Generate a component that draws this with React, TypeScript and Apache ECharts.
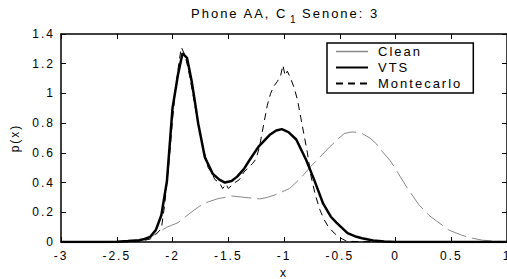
import React, { useEffect, useRef } from "react";
import * as echarts from "echarts";

const X_TICKS_MIN = -3;
const X_TICKS_MAX = 1;
const X_INTERVAL = 0.5;
const Y_MAX = 1.4;
const Y_INTERVAL = 0.2;

const SERIES_NAMES = ["Clean", "VTS", "Montecarlo"];

const CLEAN_X = [-3, -2.5, -2.3, -2.2, -2.14, -2.05, -1.95, -1.85, -1.76, -1.68, -1.6, -1.47, -1.35, -1.22, -1.15, -1.07, -0.95, -0.85, -0.77, -0.68, -0.59, -0.52, -0.46, -0.4, -0.37, -0.3, -0.23, -0.17, -0.12, -0.05, 0.01, 0.1, 0.21, 0.3, 0.37, 0.48, 0.58, 0.66, 0.78, 0.9, 1];
const CLEAN_Y = [0, 0.002, 0.01, 0.03, 0.06, 0.1, 0.13, 0.19, 0.24, 0.27, 0.29, 0.31, 0.3, 0.29, 0.3, 0.32, 0.36, 0.43, 0.5, 0.57, 0.64, 0.69, 0.73, 0.74, 0.74, 0.73, 0.7, 0.66, 0.61, 0.55, 0.48, 0.37, 0.25, 0.18, 0.14, 0.08, 0.05, 0.03, 0.012, 0.005, 0.002];

const VTS_X = [-3, -2.6, -2.5, -2.4, -2.3, -2.25, -2.2, -2.15, -2.1, -2.05, -2.0, -1.95, -1.91, -1.87, -1.83, -1.8, -1.77, -1.71, -1.64, -1.58, -1.53, -1.47, -1.42, -1.36, -1.31, -1.23, -1.13, -1.07, -1.02, -0.96, -0.89, -0.8, -0.73, -0.65, -0.58, -0.53, -0.43, -0.35, -0.3, -0.2, -0.1, 0, 0.5, 1];
const VTS_Y = [0, 0, 0.002, 0.006, 0.012, 0.02, 0.035, 0.08, 0.18, 0.41, 0.9, 1.13, 1.27, 1.24, 1.09, 0.95, 0.8, 0.57, 0.46, 0.42, 0.4, 0.41, 0.44, 0.49, 0.55, 0.64, 0.72, 0.75, 0.76, 0.74, 0.69, 0.55, 0.42, 0.26, 0.17, 0.13, 0.06, 0.035, 0.025, 0.01, 0.003, 0, 0, 0];

const MC_X = [-3, -2.4, -2.3, -2.2, -2.15, -2.1, -2.07, -2.03, -2.0, -1.97, -1.94, -1.92, -1.89, -1.86, -1.83, -1.8, -1.75, -1.72, -1.68, -1.65, -1.62, -1.58, -1.55, -1.52, -1.5, -1.47, -1.44, -1.4, -1.36, -1.32, -1.28, -1.25, -1.22, -1.18, -1.15, -1.12, -1.09, -1.06, -1.03, -1.01, -0.99, -0.97, -0.94, -0.91, -0.88, -0.85, -0.82, -0.79, -0.76, -0.72, -0.68, -0.64, -0.6, -0.55, -0.5, -0.45, -0.4, 0, 1];
const MC_Y = [0, 0, 0.003, 0.02, 0.05, 0.09, 0.25, 0.55, 0.82, 1.05, 1.22, 1.31, 1.26, 1.17, 1.05, 0.92, 0.72, 0.62, 0.5, 0.47, 0.42, 0.4, 0.36, 0.39, 0.36, 0.38, 0.4, 0.42, 0.47, 0.5, 0.53, 0.56, 0.64, 0.8, 0.92, 1.0, 1.05, 1.08, 1.12, 1.19, 1.12, 1.15, 1.1, 1.04, 0.96, 0.84, 0.72, 0.6, 0.45, 0.32, 0.22, 0.15, 0.1, 0.06, 0.03, 0.01, 0.004, 0, 0];

const zip = (xs: number[], ys: number[]) => xs.map((x, i) => [x, ys[i]]);

const FONT = "'Liberation Sans', Arial, Helvetica, sans-serif";

export default function App() {
  const ref = useRef<HTMLDivElement>(null);
  useEffect(() => {
    if (!ref.current) return;
    const chart = echarts.init(ref.current, undefined, { renderer: "svg" });
    const tickStyle = { show: true, inside: true, length: 5, lineStyle: { color: "#000", width: 1 } };
    const axisLine = { show: true, onZero: false, lineStyle: { color: "#000", width: 1.5 } };
    chart.setOption({
      animation: false,
      backgroundColor: "#fff",
      textStyle: { fontFamily: FONT },
      grid: { left: 61, right: 0, top: 34, bottom: 37, containLabel: false, outerBoundsMode: "none" },
      graphic: [
        { type: "text", left: 191, top: 7, style: { text: "Phone AA, C", font: `13px ${FONT}`, fill: "#000" } },
        { type: "text", left: 290, top: 14, style: { text: "1", font: `10px ${FONT}`, fill: "#000" } },
        { type: "text", left: 302, top: 7, style: { text: "Senone: 3", font: `13px ${FONT}`, fill: "#000" } },
      ],
      legend: {
        orient: "vertical",
        left: 327,
        top: 43,
        itemWidth: 32,
        itemHeight: 14,
        itemGap: 3,
        padding: [2, 31, 3, 8],
        borderColor: "#000",
        borderWidth: 1.5,
        backgroundColor: "#fff",
        itemStyle: { opacity: 0 },
        textStyle: { fontFamily: FONT, fontSize: 13, color: "#000", padding: [0, 0, 0, 5] },
        data: [
          { name: "Clean", lineStyle: { type: "solid", color: "#888", width: 1.5 } },
          { name: "VTS" },
          { name: "Montecarlo" },
        ],
      },
      xAxis: [
        {
          type: "value",
          position: "bottom",
          min: X_TICKS_MIN,
          max: X_TICKS_MAX,
          interval: X_INTERVAL,
          name: "x",
          nameLocation: "middle",
          nameGap: 25,
          nameTextStyle: { fontFamily: FONT, fontSize: 12, color: "#000" },
          axisLine,
          axisTick: tickStyle,
          axisLabel: { color: "#000", fontSize: 12, margin: 8, fontFamily: FONT },
          splitLine: { show: false },
        },
        {
          type: "value",
          position: "top",
          min: X_TICKS_MIN,
          max: X_TICKS_MAX,
          interval: X_INTERVAL,
          axisLine,
          axisTick: tickStyle,
          axisLabel: { show: false },
          splitLine: { show: false },
        },
      ],
      yAxis: [
        {
          type: "value",
          position: "left",
          min: 0,
          max: Y_MAX,
          interval: Y_INTERVAL,
          name: "p(x)",
          nameLocation: "middle",
          nameGap: 40,
          nameTextStyle: { fontFamily: FONT, fontSize: 12, color: "#000" },
          axisLine,
          axisTick: tickStyle,
          axisLabel: { color: "#000", fontSize: 12, margin: 6, fontFamily: FONT },
          splitLine: { show: false },
        },
        {
          type: "value",
          position: "right",
          min: 0,
          max: Y_MAX,
          interval: Y_INTERVAL,
          axisLine,
          axisTick: tickStyle,
          axisLabel: { show: false },
          splitLine: { show: false },
        },
      ],
      series: [
        {
          name: SERIES_NAMES[0],
          type: "line",
          symbol: "none",
          data: zip(CLEAN_X, CLEAN_Y),
          color: "#888",
          lineStyle: { color: "#888", width: 1, type: [20, 6] },
          z: 2,
        },
        {
          name: SERIES_NAMES[1],
          type: "line",
          symbol: "none",
          data: zip(VTS_X, VTS_Y),
          color: "#000",
          lineStyle: { color: "#000", width: 2.5 },
          z: 3,
        },
        {
          name: SERIES_NAMES[2],
          type: "line",
          symbol: "none",
          data: zip(MC_X, MC_Y),
          color: "#000",
          lineStyle: { color: "#000", width: 1, type: [7, 5] },
          z: 4,
        },
      ],
    });
    return () => chart.dispose();
  }, []);
  return (
    <>
      <style>{`.chartbox text { letter-spacing: 2px; }`}</style>
      <div
        ref={ref}
        className="chartbox"
        style={{ position: "fixed", left: 0, top: 0, width: 507, height: 279, background: "#fff" }}
      />
    </>
  );
}
